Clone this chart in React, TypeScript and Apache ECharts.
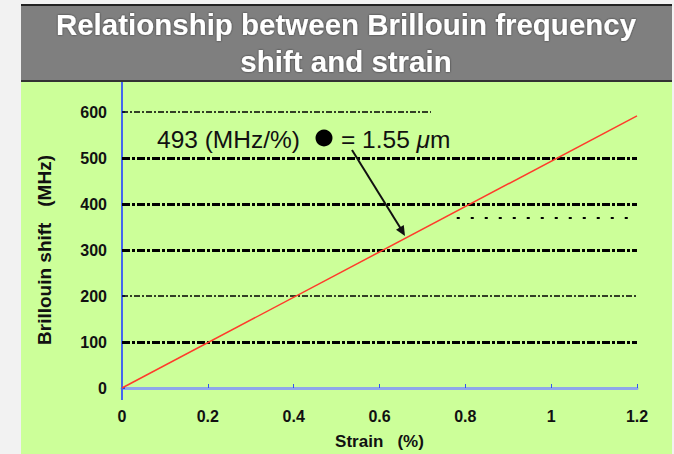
import React, { useEffect, useRef } from "react";
import * as echarts from "echarts";

// Data
const strainPct = [0, 1.2];
const shiftMHz = [0, 591.6];
const xTicks = [0, 0.2, 0.4, 0.6, 0.8, 1, 1.2];
const yTicks = [0, 100, 200, 300, 400, 500, 600];
const refLevels = [100, 200, 300, 400, 500, 600];
const refLevelEnds = [1.2, 1.2, 1.2, 1.2, 1.2, 0.72];
const extraDotsLevel = 370;
const extraDotsRange = [0.78, 1.19];

const titleText = "Relationship between Brillouin frequency\nshift and strain";
const xName = "Strain   (%)";
const yName = "Brillouin shift   (MHz)";
const noteLeft = "493 (MHz/%)";
const noteRight = "= 1.55 ";

export default function App() {
  const ref = useRef<HTMLDivElement>(null);
  useEffect(() => {
    document.body.style.margin = "0";
    const chart = echarts.init(ref.current!, undefined, { renderer: "svg" });
    const FONT = "Liberation Sans, Arial, sans-serif";

    const gridMarks: any[] = refLevels.map((v, i) => {
      const thin = v === 200 || v === 600;
      return [
        {
          coord: [0, v],
          lineStyle: {
            color: "#000",
            width: thin ? 1.5 : 3,
            type: thin ? [6, 2, 2, 2] : [8, 2, 3, 2],
          },
        },
        { coord: [refLevelEnds[i], v] },
      ];
    });
    gridMarks.push([
      {
        coord: [extraDotsRange[0], extraDotsLevel],
        lineStyle: { color: "#000", width: 2, type: [3, 11] },
      },
      { coord: [extraDotsRange[1], extraDotsLevel] },
    ]);

    const option: any = {
      animation: false,
      backgroundColor: "#f2f2f2",
      textStyle: { fontFamily: FONT },
      graphic: [
        { type: "rect", z: -10, shape: { x: 21, y: 82, width: 651, height: 372 }, style: { fill: "#ccff99" } },
        { type: "rect", z: -10, shape: { x: 21, y: 4, width: 651, height: 78 }, style: { fill: "#7f7f7f" } },
        { type: "rect", z: -9, shape: { x: 21, y: 4, width: 651, height: 2 }, style: { fill: "#222" } },
        { type: "rect", z: -9, shape: { x: 21, y: 80, width: 651, height: 2 }, style: { fill: "#333" } },
        {
          type: "line",
          z: 5,
          shape: { x1: 122, y1: 82, x2: 122, y2: 400 },
          style: { stroke: "#4466ee", lineWidth: 2 },
        },
        {
          type: "text",
          z: 10,
          x: 157,
          y: 139,
          style: {
            text: noteLeft,
            verticalAlign: "middle",
            fontSize: 24.5,
            fontFamily: FONT,
            fill: "#111",
          },
        },
        {
          type: "circle",
          z: 10,
          shape: { cx: 324, cy: 138, r: 8.5 },
          style: { fill: "#000" },
        },
        {
          type: "text",
          z: 10,
          x: 341,
          y: 139,
          style: {
            text: "{a|" + noteRight + "}{i|μ}{a|m}",
            verticalAlign: "middle",
            rich: {
              a: { fontSize: 24.5, fontFamily: FONT, fill: "#111" },
              i: { fontSize: 24.5, fontFamily: FONT, fontStyle: "italic", fill: "#111" },
            },
          },
        },
        {
          type: "line",
          z: 10,
          shape: { x1: 352, y1: 150, x2: 401, y2: 229 },
          style: { stroke: "#111", lineWidth: 2 },
        },
        {
          type: "polygon",
          z: 10,
          shape: { points: [[405, 236], [403.8, 225.1], [396.0, 229.7]] },
          style: { fill: "#111" },
        },
      ],
      title: {
        text: titleText,
        left: 341,
        textAlign: "center",
        top: 1,
        textStyle: {
          color: "#fff",
          fontSize: 29.5,
          fontWeight: "bold",
          fontFamily: FONT,
          lineHeight: 37,
          textShadowColor: "rgba(0,0,0,0.6)",
          textShadowBlur: 2,
        },
      },
      grid: { left: 122, right: 37, top: 112, bottom: 66, outerBoundsMode: "none", containLabel: false },
      xAxis: {
        type: "value",
        min: xTicks[0],
        max: xTicks[xTicks.length - 1],
        interval: 0.2,
        name: xName,
        nameLocation: "middle",
        nameGap: 45,
        nameTextStyle: { fontSize: 17, fontWeight: "bold", color: "#111", fontFamily: FONT },
        axisLine: { show: true, lineStyle: { color: "#8ea7ea", width: 3 } },
        axisTick: { show: true, inside: true, length: 4, lineStyle: { color: "#3355ee", width: 1 } },
        axisLabel: {
          margin: 20,
          fontSize: 16,
          fontWeight: "bold",
          color: "#111",
          fontFamily: FONT,
          formatter: (v: number) => String(Math.round(v * 10) / 10),
        },
        splitLine: { show: false },
      },
      yAxis: {
        type: "value",
        min: yTicks[0],
        max: yTicks[yTicks.length - 1],
        interval: 100,
        name: yName,
        nameLocation: "middle",
        nameGap: 68,
        nameTextStyle: { fontSize: 19, fontWeight: "bold", color: "#111", fontFamily: FONT },
        axisLine: { show: false },
        axisTick: { show: true, inside: true, length: 3, lineStyle: { color: "#2244ee", width: 2 } },
        axisLabel: { margin: 15, fontSize: 16, fontWeight: "bold", color: "#111", fontFamily: FONT },
        splitLine: { show: false },
      },
      series: [
        {
          type: "line",
          data: [],
          silent: true,
          markLine: {
            silent: true,
            symbol: "none",
            label: { show: false },
            data: gridMarks,
          },
          z: 2,
        },
        {
          type: "line",
          data: strainPct.map((x, i) => [x, shiftMHz[i]]),
          showSymbol: false,
          symbol: "none",
          lineStyle: { color: "#ff3b2b", width: 1.5 },
          z: 5,
        },
      ],
    };
    chart.setOption(option);
    return () => chart.dispose();
  }, []);
  return <div ref={ref} style={{ width: 674, height: 454 }} />;
}
